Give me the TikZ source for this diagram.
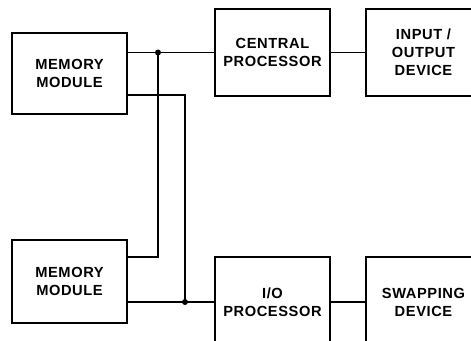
\documentclass[tikz,border=0pt]{standalone}
\usepackage{fontspec}
\newfontfamily\blockfont[LetterSpace=4]{Liberation Sans}
\usepackage{tikz}
\usetikzlibrary{calc}

\begin{document}
\begin{tikzpicture}[x=0.75pt, y=-0.75pt,
    block/.style={draw=black, line width=1.5pt, minimum width=86pt, align=center,
      font=\blockfont\bfseries\fontsize{11}{13.5}\selectfont},
    wire/.style={line width=0.9pt},
    joint/.style={circle, fill=black, inner sep=0pt, minimum size=4.5pt}]
    \clip (0,0) rectangle (471,340);
    % memory modules
    \node[block, minimum height=61pt] (memA) at (69.5,73.5) {MEMORY\\MODULE};
    \node[block, minimum height=62pt] (memB) at (69.5,281.5) {MEMORY\\MODULE};
    % processors
    \node[block, minimum height=65pt] (cpu) at (272.5,52.5) {CENTRAL\\PROCESSOR};
    \node[block, minimum height=67pt] (iop) at (272.5,302) {I/O\\PROCESSOR};
    % devices
    \node[block, minimum height=65pt] (iod) at (423.5,52.5) {INPUT /\\OUTPUT\\DEVICE};
    \node[block, minimum height=67pt] (swap) at (423.5,302) {SWAPPING\\DEVICE};
    % bus points
    \coordinate (jA) at (158,52.5);
    \coordinate (jB) at (185,302);
    \coordinate (memAlo) at ($(memA.east)+(0,21.5)$);
    \coordinate (memBhi) at ($(memB.east)+(0,-24.5)$);
    % wires
    \draw[wire] (memA.east |- cpu.west) -- (cpu.west);
    \draw[wire] (cpu.east) -- (iod.west);
    \draw[wire] (memB.east |- iop.west) -- (iop.west);
    \draw[wire] (iop.east) -- (swap.west);
    \draw[wire] (jA) |- (memBhi);
    \draw[wire] (memAlo) -| (jB);
    \node[joint] (dotA) at (jA) {};
    \node[joint] (dotB) at (jB) {};
\end{tikzpicture}
\end{document}
